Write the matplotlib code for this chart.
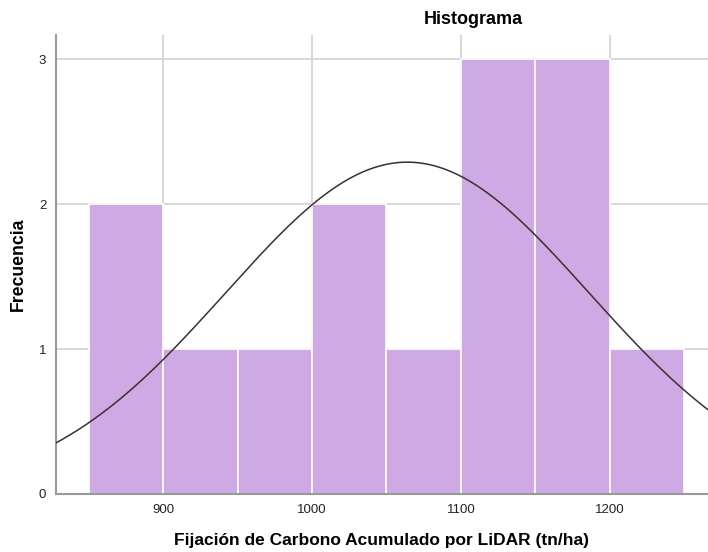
import numpy as np
import matplotlib.pyplot as plt

# histogram data
bin_left = [850, 900, 950, 1000, 1050, 1100, 1150, 1200]
counts = [2, 1, 1, 2, 1, 3, 3, 1]
bin_width = 50

# fitted normal curve parameters
mean = 1064
std_dev = 122
n = 14

x_ticks = [900, 1000, 1100, 1200]
y_ticks = [0, 1, 2, 3]

fig = plt.figure(figsize=(7.08, 5.52), dpi=100)
ax = fig.add_axes([56 / 708, 1 - 494 / 552, 652 / 708, 459 / 552])

ax.bar(bin_left, counts, width=bin_width, align="edge", color="#cfa9e3",
       edgecolor="white", linewidth=1.2, zorder=2)

xs = np.linspace(820, 1270, 400)
ys = n * bin_width / (std_dev * np.sqrt(2 * np.pi)) * np.exp(-(xs - mean) ** 2 / (2 * std_dev ** 2))
ax.plot(xs, ys, color="#333333", linewidth=1.1, zorder=3)

ax.set_xlim(828, 1266)
ax.set_ylim(0, 3.166)
ax.set_xticks(x_ticks)
ax.set_yticks(y_ticks)
ax.tick_params(length=0, labelsize=9.5, colors="#222222", pad=7)
ax.grid(True, color="#d2d2d2", linewidth=1.2, zorder=0)
ax.set_axisbelow(True)

for s in ["top", "right"]:
    ax.spines[s].set_visible(False)
for s in ["left", "bottom"]:
    ax.spines[s].set_color("#999999")
    ax.spines[s].set_linewidth(1.5)

fig.text(473 / 708, 1 - 20 / 552, "Histograma", ha="center", va="center",
         fontsize=13, fontweight="bold", family="Liberation Sans")
fig.text(18 / 708, 1 - 264 / 552, "Frecuencia", ha="center", va="center",
         rotation=90, fontsize=12.7, fontweight="bold", family="Liberation Sans")
fig.text(381 / 708, 1 - 541 / 552, "Fijación de Carbono Acumulado por LiDAR (tn/ha)",
         ha="center", va="center", fontsize=12.5, fontweight="bold", family="Liberation Sans")

for lbl in ax.get_xticklabels() + ax.get_yticklabels():
    lbl.set_family("Liberation Sans")

fig.savefig("out.png", dpi=100)
